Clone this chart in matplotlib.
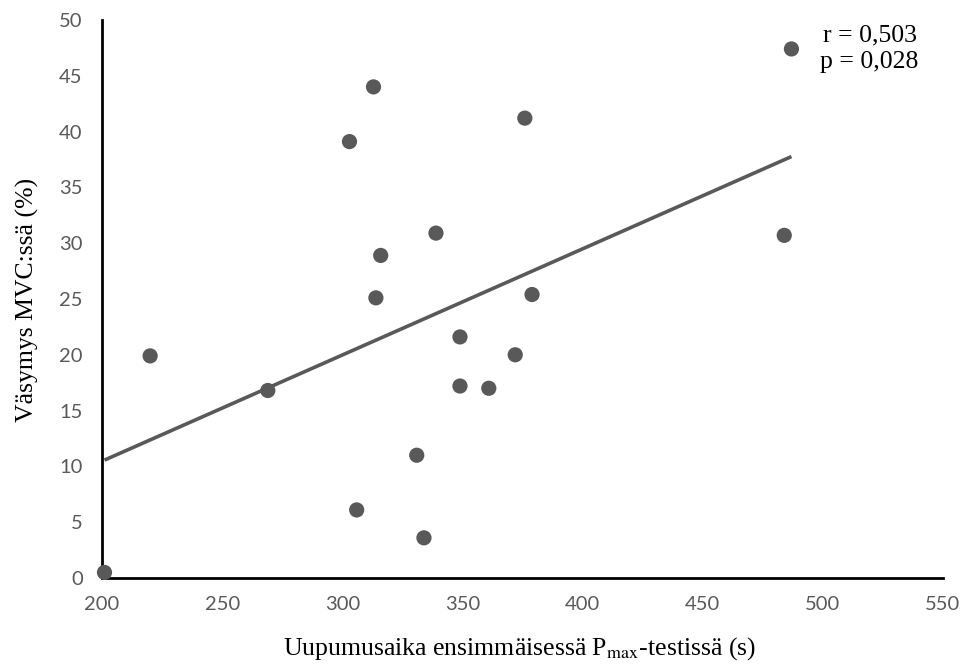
import numpy as np
import matplotlib
matplotlib.use('Agg')
from matplotlib import pyplot as plt

# Uupumusaika (s) ja väsymys MVC:ssä (%)
aika = [201, 220, 269, 313, 376, 303, 339, 316, 314, 379, 349, 372, 349, 361, 331, 306, 334, 487, 484]
vasymys = [0.5, 19.9, 16.8, 44.0, 41.2, 39.1, 30.9, 28.9, 25.1, 25.4, 21.6, 20.0, 17.2, 17.0, 11.0, 6.1, 3.6, 47.4, 30.7]
x_ticks = [200, 250, 300, 350, 400, 450, 500, 550]
y_ticks = [0, 5, 10, 15, 20, 25, 30, 35, 40, 45, 50]
stats_text = 'r = 0,503\np = 0,028'

grey = '#595959'
plt.rcParams['mathtext.fontset'] = 'stix'

fig = plt.figure(figsize=(9.63, 6.64), dpi=100)
ax = fig.add_axes([0.106, 0.1295, 0.873, 0.8405])

x = np.array(aika, dtype=float)
y = np.array(vasymys, dtype=float)
k, b = np.polyfit(x, y, 1)
xs = np.array([x.min(), x.max()])
ax.plot(xs, k * xs + b, color=grey, lw=2.6, zorder=2, solid_capstyle='butt')
ax.scatter(x, y, s=120, color=grey, edgecolors='none', zorder=3, clip_on=False)

ax.set_xlim(200, 550)
ax.set_ylim(0, 50)
ax.set_xticks(x_ticks)
ax.set_yticks(y_ticks)
ax.tick_params(length=0, labelsize=14.5, labelcolor=grey)
ax.tick_params(axis='x', pad=13)
ax.tick_params(axis='y', pad=14)
for lab in ax.get_xticklabels() + ax.get_yticklabels():
    lab.set_family('Lato')

for side in ['top', 'right']:
    ax.spines[side].set_visible(False)
for side in ['left', 'bottom']:
    ax.spines[side].set_linewidth(2)
    ax.spines[side].set_color('black')

ax.set_xlabel(r'Uupumusaika ensimmäisessä P$_{\mathrm{max}}$-testissä (s)',
              family='Liberation Serif', fontsize=18.5)
ax.set_ylabel('Väsymys MVC:ssä (%)', family='Liberation Serif', fontsize=18.5)
ax.xaxis.set_label_coords(0.497, -0.102)
ax.yaxis.set_label_coords(-0.075, 0.498)

ax.text(0.913, 0.948, stats_text, transform=ax.transAxes, ha='center', va='center',
        family='Liberation Serif', fontsize=18.5, linespacing=1.3)

fig.savefig('out.png', dpi=100)
